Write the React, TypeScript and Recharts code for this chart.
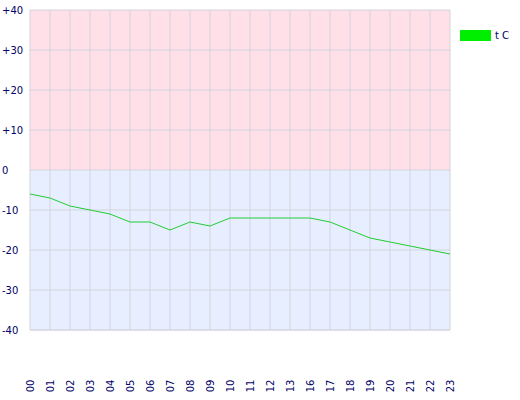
import React from 'react';
import { LineChart, Line, XAxis, YAxis, CartesianGrid } from 'recharts';

const hours = ['00','01','02','03','04','05','06','07','08','09','10','11','12','13','16','17','18','19','20','21','22','23'];
const temps = [-6, -7, -9, -10, -11, -13, -13, -15, -13, -14, -12, -12, -12, -12, -12, -13, -15, -17, -18, -19, -20, -21];
const yTicks = [-40, -30, -20, -10, 0, 10, 20, 30, 40];
const stripeFills = ['#ffdfe8', '#ffdfe8', '#ffdfe8', '#ffdfe8', '#e6eeff', '#e6eeff', '#e6eeff', '#e6eeff'];
const seriesName = 't C';

const data = hours.map((h, i) => ({ h, t: temps[i] }));

const TEXT = '#000066';
const FONT = 'DejaVu Sans, Verdana, sans-serif';

const YTick = (props: any) => {
  const { y, payload } = props;
  const v = payload.value;
  const label = v > 0 ? '+' + v : String(v);
  return (
    <text x={2} y={y} dy={4} textAnchor="start" fontSize={10} fill={TEXT} fontFamily={FONT}>
      {label}
    </text>
  );
};

const XTick = (props: any) => {
  const { x, payload } = props;
  return (
    <text
      transform={`translate(${x},386) rotate(-90)`}
      textAnchor="middle"
      dy={4}
      fontSize={10}
      fill={TEXT}
      fontFamily={FONT}
    >
      {payload.value}
    </text>
  );
};

export default function App() {
  return (
    <div style={{ position: 'absolute', left: 0, top: 0, width: 520, height: 400, background: '#fff' }}>
      <LineChart width={520} height={400} data={data} margin={{ top: 10, right: 70, left: 0, bottom: 0 }}>
        <CartesianGrid
          stroke="#d4d4dc"
          horizontalFill={stripeFills}
          fillOpacity={1}
        />
        <XAxis
          dataKey="h"
          height={70}
          interval={0}
          tick={<XTick />}
          tickLine={false}
          axisLine={{ stroke: '#d4d4dc' }}
        />
        <YAxis
          width={30}
          domain={[-40, 40]}
          ticks={yTicks}
          tick={<YTick />}
          tickLine={false}
          axisLine={false}
          interval={0}
        />
        <Line
          type="linear"
          dataKey="t"
          name={seriesName}
          stroke="#22cc33"
          strokeWidth={1}
          dot={false}
          isAnimationActive={false}
        />
      </LineChart>
      <div
        style={{
          position: 'absolute',
          left: 460,
          top: 30,
          display: 'flex',
          alignItems: 'center',
          fontFamily: FONT,
          fontSize: 10,
          color: TEXT,
          lineHeight: '11px',
        }}
      >
        <div style={{ width: 31, height: 11, background: '#00ee00', marginRight: 4 }} />
        <span>{seriesName}</span>
      </div>
    </div>
  );
}
